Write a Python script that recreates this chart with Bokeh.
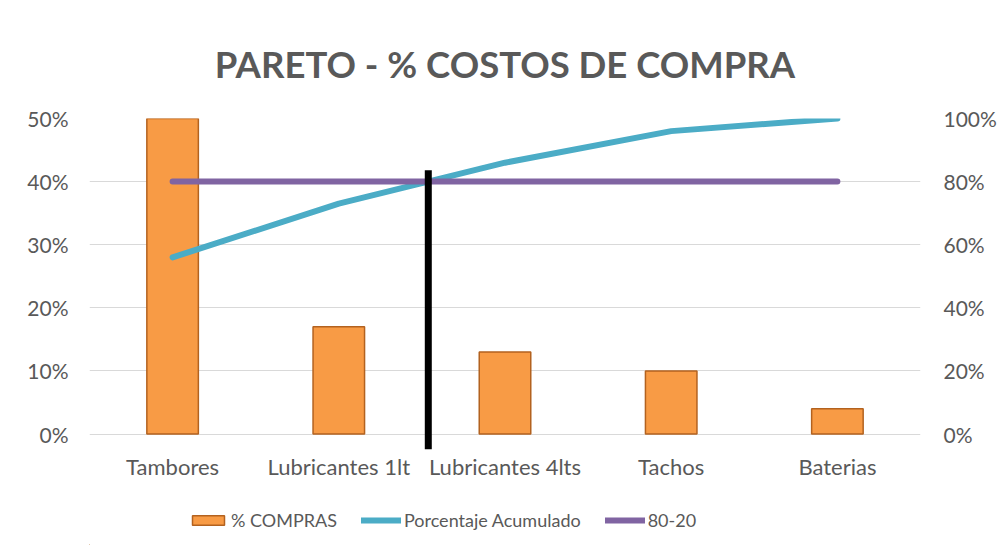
from bokeh.plotting import figure
from bokeh.layouts import column
from bokeh.models import (Range1d, LinearAxis, FixedTicker, NumeralTickFormatter,
                          Legend, LegendItem)
from bokeh.embed import file_html
from bokeh.resources import INLINE

# ---- data ----
categories = ["Tambores", "Lubricantes 1lt", "Lubricantes 4lts", "Tachos", "Baterias"]
pct_compras = [0.56, 0.17, 0.13, 0.10, 0.04]
acumulado = [0.56, 0.73, 0.86, 0.96, 1.00]
linea_80_20 = [0.80, 0.80, 0.80, 0.80, 0.80]
left_ticks = [0.0, 0.1, 0.2, 0.3, 0.4, 0.5]
right_ticks = [0.0, 0.2, 0.4, 0.6, 0.8, 1.0]
umbral = 0.80

FONT = "Lato"
GREY = "#595959"
BAR_FILL, BAR_LINE = "#F89B45", "#B3621F"
ACC_COLOR, LINE80_COLOR = "#4BACC6", "#8064A2"

p = figure(x_range=categories, y_range=Range1d(-0.026, 0.5),
           frame_width=831, frame_height=332,
           output_backend="svg", toolbar_location=None,
           min_border_left=89, min_border_right=75, min_border_top=118,
           min_border_bottom=40)
p.extra_y_ranges = {"acc": Range1d(-0.052, 1.0)}

p.title.text = "PARETO - % COSTOS DE COMPRA"
p.title.align = "center"
p.title.text_font = FONT
p.title.text_font_size = "36.5px"
p.title.text_color = GREY
p.title.text_font_style = "bold"
p.title.standoff = 65
p.title.offset = 17

p.outline_line_color = None
p.xgrid.visible = False
p.ygrid.ticker = FixedTicker(ticks=left_ticks)
p.ygrid.grid_line_color = "#d9d9d9"
p.ygrid.grid_line_width = 1

# left axis
p.yaxis.ticker = FixedTicker(ticks=left_ticks)
p.yaxis.formatter = NumeralTickFormatter(format="0%")

# right axis
ax_r = LinearAxis(y_range_name="acc", ticker=FixedTicker(ticks=right_ticks),
                  formatter=NumeralTickFormatter(format="0%"))
p.add_layout(ax_r, "right")

for ax in [p.xaxis[0], p.yaxis[0], ax_r]:
    ax.axis_line_color = None
    ax.major_tick_line_color = None
    ax.minor_tick_line_color = None
    ax.major_label_text_font = FONT
    ax.major_label_text_font_size = "21px"
    ax.major_label_text_color = GREY
p.xaxis.major_label_text_font_size = "22px"
p.yaxis[0].major_label_standoff = 15
ax_r.major_label_standoff = 17
p.xaxis.major_label_standoff = -4

# bars
r_bar = p.vbar(x=categories, top=pct_compras, bottom=0, width=0.31,
               fill_color=BAR_FILL, line_color=BAR_LINE, line_width=1.5)

# cumulative line
r_acc = p.line(x=categories, y=acumulado, y_range_name="acc",
               line_color=ACC_COLOR, line_width=6, line_cap="round", line_join="round")
# 80-20 line
r_80 = p.line(x=categories, y=linea_80_20, y_range_name="acc",
              line_color=LINE80_COLOR, line_width=6, line_cap="round")

# cut-off marker: where cumulative crosses the threshold (synthetic x coordinate)
idx = next(i for i, v in enumerate(acumulado) if v >= umbral)
frac = (umbral - acumulado[idx - 1]) / (acumulado[idx] - acumulado[idx - 1])
cut_x = (idx - 1) + 0.5 + frac
p.segment(x0=[cut_x], x1=[cut_x], y0=[-0.024], y1=[0.418],
          line_color="black", line_width=7)

# ---- legend strip (separate figure below, same glyph styles, data out of view) ----
pos = list(range(len(categories)))
p2 = figure(width=995, height=55, output_backend="svg", toolbar_location=None,
            x_range=Range1d(100, 101), y_range=Range1d(100, 101), min_border=0,
            x_axis_type=None, y_axis_type=None)
p2.outline_line_color = None
p2.grid.visible = False
l_bar = p2.vbar(x=pos, top=pct_compras, bottom=0, width=0.31,
                fill_color=BAR_FILL, line_color=BAR_LINE, line_width=1.5)
l_acc = p2.line(x=pos, y=acumulado, line_color=ACC_COLOR, line_width=6, line_cap="round")
l_80 = p2.line(x=pos, y=linea_80_20, line_color=LINE80_COLOR, line_width=6, line_cap="round")

legend = Legend(items=[LegendItem(label="% COMPRAS", renderers=[l_bar]),
                       LegendItem(label="Porcentaje Acumulado", renderers=[l_acc]),
                       LegendItem(label="80-20", renderers=[l_80])],
                orientation="horizontal", location=(99, 14))
legend.border_line_color = None
legend.background_fill_alpha = 0
legend.label_text_font = FONT
legend.label_text_font_size = "18px"
legend.label_text_color = GREY
legend.glyph_width = 40
legend.glyph_height = 12
legend.label_standoff = 3
legend.spacing = 24
legend.padding = 5
legend.margin = 0
p2.add_layout(legend, "center")

layout = column(p, p2, spacing=0)
open("out.html", "w").write(file_html(layout, INLINE))
